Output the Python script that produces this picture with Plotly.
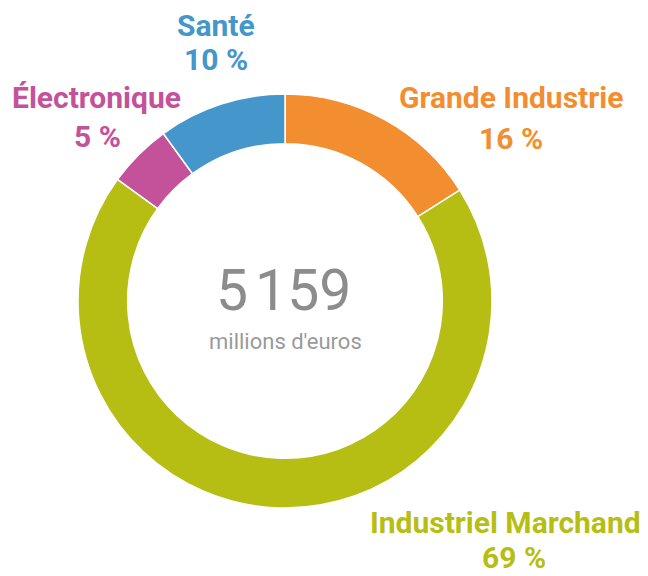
import plotly.graph_objects as go

categories = ["Grande Industrie", "Industriel Marchand", "Électronique", "Santé"]
values = [16, 69, 5, 10]
colors = ["#F28E2F", "#B6BE14", "#C4529A", "#4596CB"]
total_label = "5\u202f159"
unit_label = "millions d'euros"

W, H = 648, 576
cx, cy, r = 285, 301, 207

fig = go.Figure(go.Pie(
    labels=categories, values=values, sort=False, direction="clockwise", rotation=0,
    hole=0.76, textinfo="none", hoverinfo="label+percent",
    marker=dict(colors=colors, line=dict(color="white", width=1.5)),
    domain=dict(x=[(cx - r) / W, (cx + r) / W], y=[(H - cy - r) / H, (H - cy + r) / H]),
    showlegend=False,
))

# (name x, name y, pct x, pct y) in pixels
label_pos = {
    "Grande Industrie": (511, 98, 511, 138),
    "Industriel Marchand": (505, 522, 514, 561),
    "Électronique": (96, 98, 97, 136),
    "Santé": (216, 25, 216, 60),
}
FS = 30
for cat, val, col in zip(categories, values, colors):
    x1, y1, x2, y2 = label_pos[cat]
    fig.add_annotation(x=x1 / W, y=1 - y1 / H, xref="paper", yref="paper", text=cat,
                       showarrow=False, font=dict(family="Roboto", size=FS, color=col, weight="bold"),
                       xanchor="center", yanchor="middle", borderpad=0)
    if y2 > 550:
        fig.add_annotation(x=x2 / W, y=0, xref="paper", yref="paper", text=f"{val} %",
                           showarrow=False, font=dict(family="Roboto", size=FS, color=col, weight="bold"),
                           xanchor="center", yanchor="bottom", borderpad=0)
    else:
        fig.add_annotation(x=x2 / W, y=1 - y2 / H, xref="paper", yref="paper", text=f"{val} %",
                           showarrow=False, font=dict(family="Roboto", size=FS, color=col, weight="bold"),
                           xanchor="center", yanchor="middle", borderpad=0)

fig.add_annotation(x=283 / W, y=1 - 290 / H, xref="paper", yref="paper", text=total_label,
                   showarrow=False, font=dict(family="Roboto", size=57, color="#8C8C8C"),
                   xanchor="center", yanchor="middle")
fig.add_annotation(x=285 / W, y=1 - 341 / H, xref="paper", yref="paper", text=unit_label,
                   showarrow=False, font=dict(family="Roboto", size=22, color="#9A9A9A"),
                   xanchor="center", yanchor="middle")

fig.update_layout(width=W, height=H, margin=dict(l=0, r=0, t=0, b=0),
                  paper_bgcolor="white", plot_bgcolor="white")
fig.write_html("out.html")
